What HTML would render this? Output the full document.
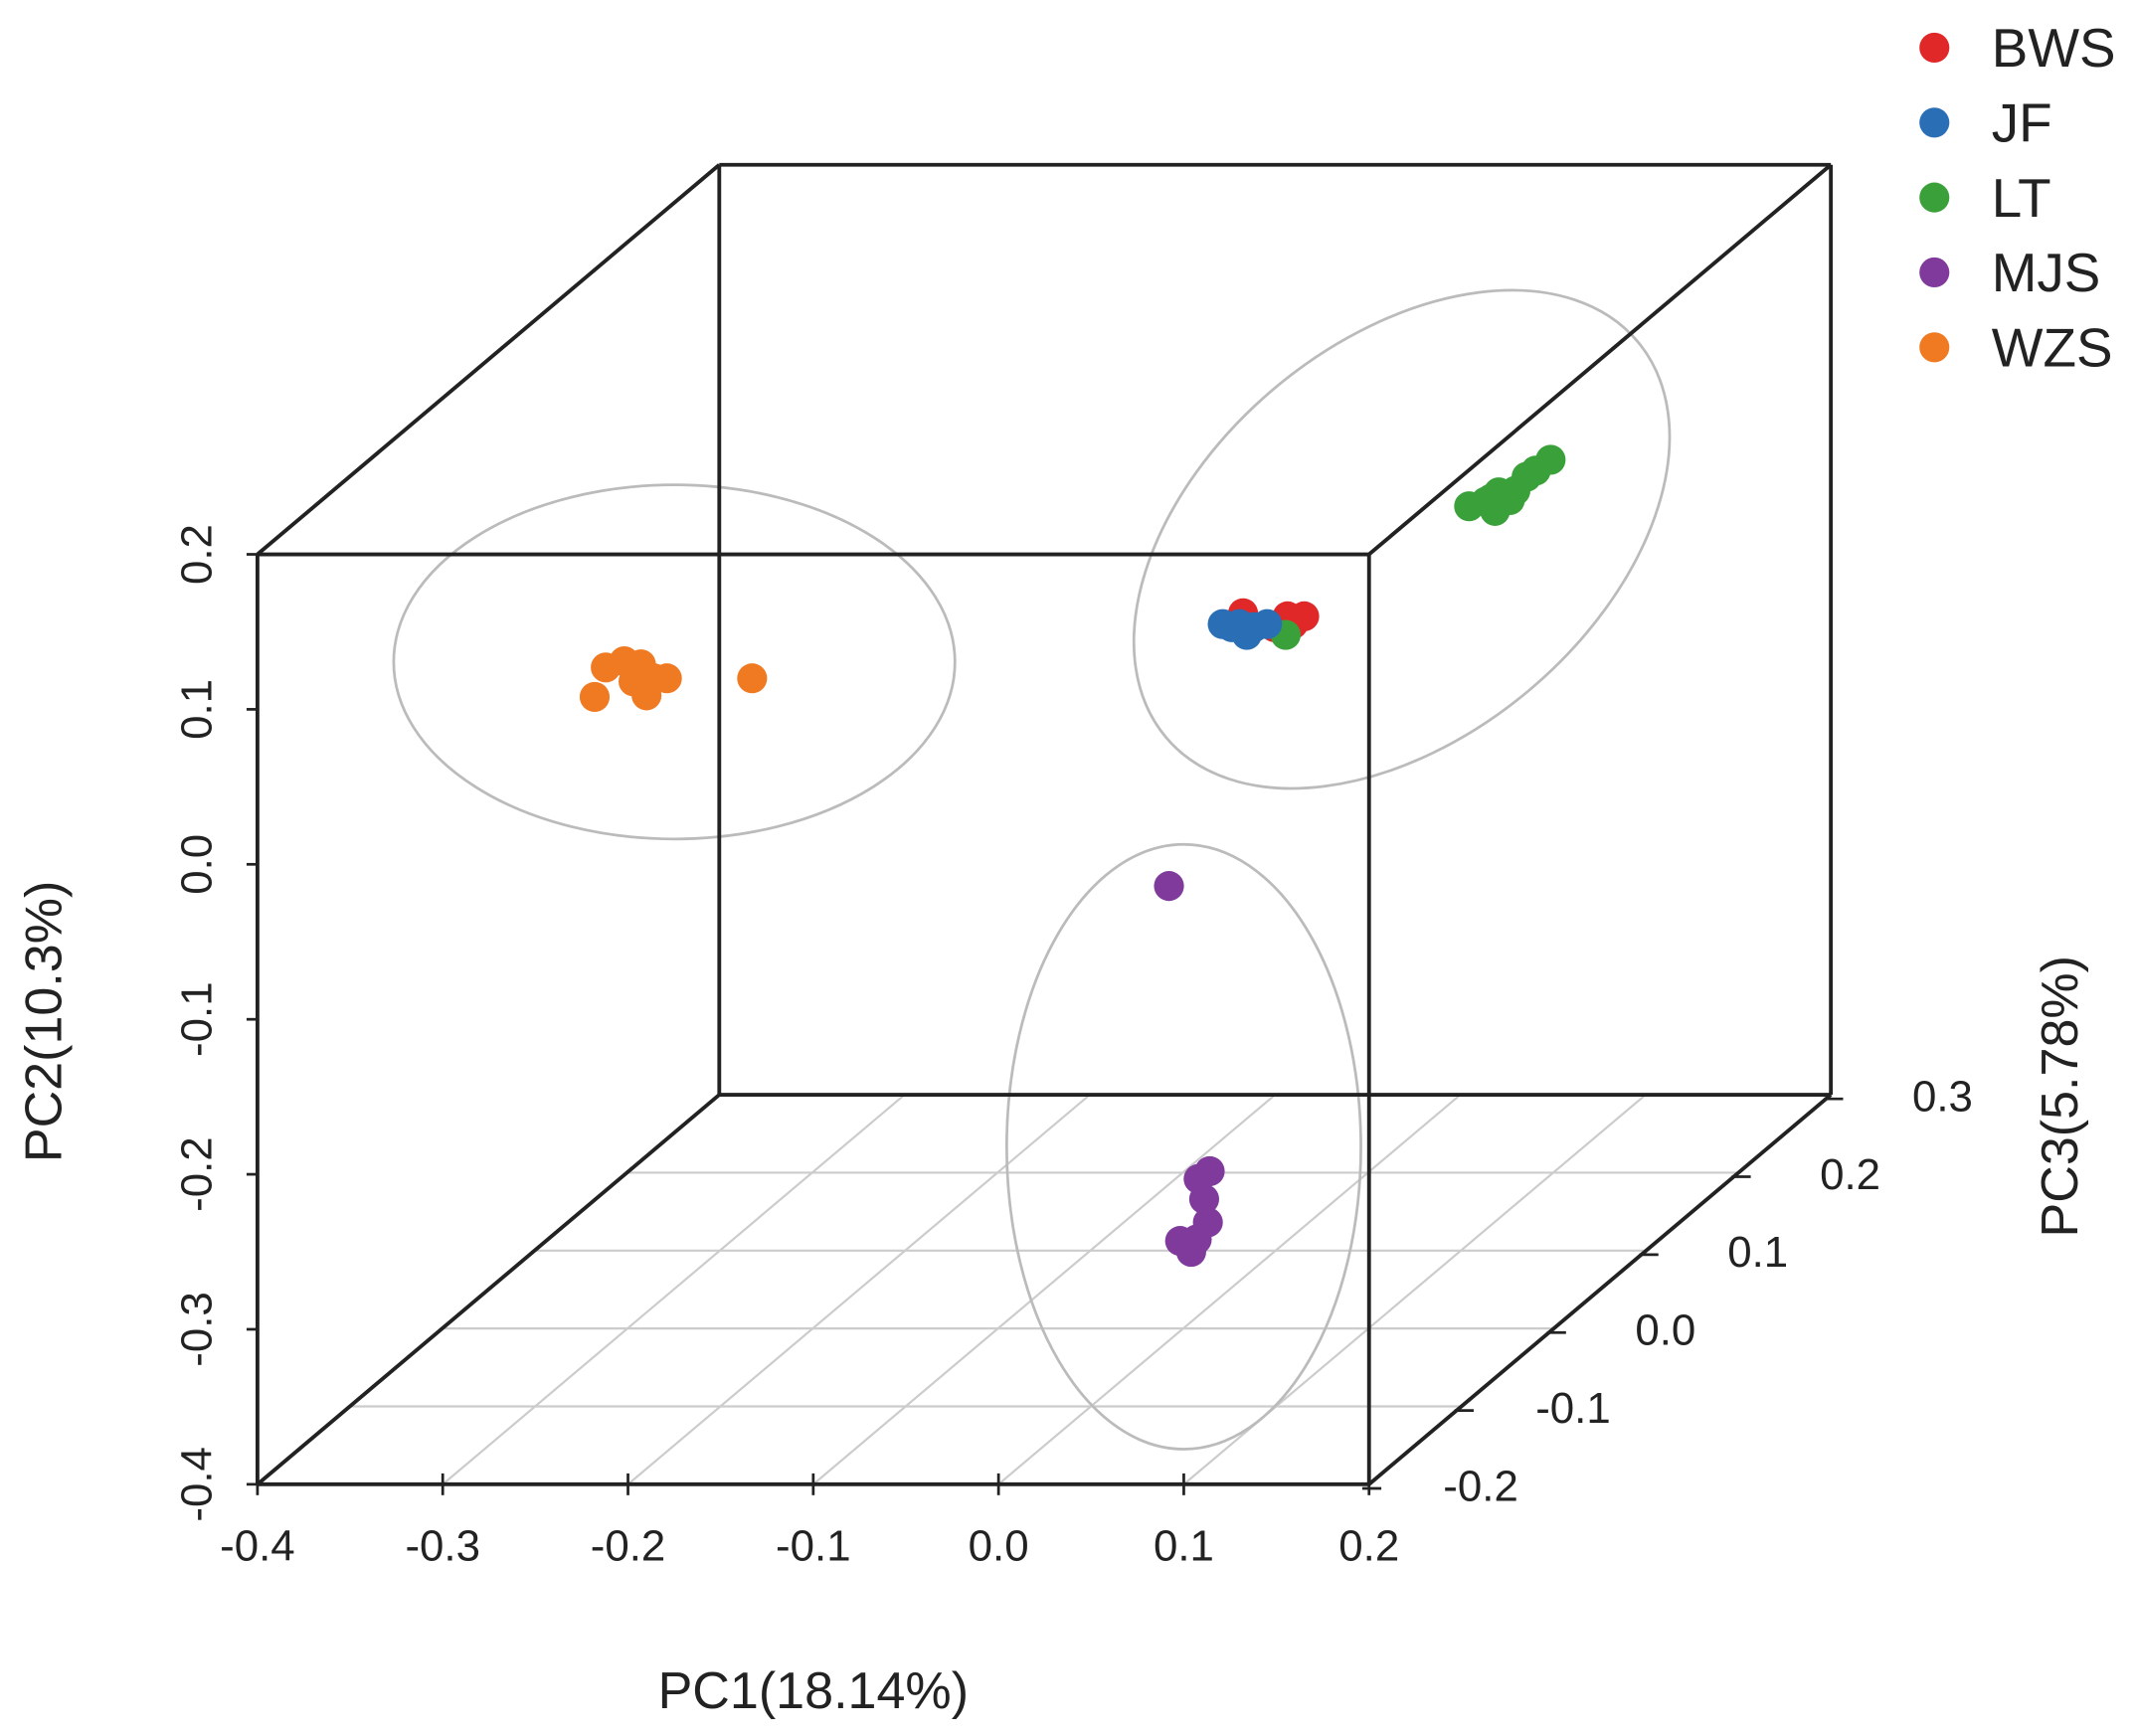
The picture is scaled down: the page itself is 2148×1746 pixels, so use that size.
<!DOCTYPE html>
<html><head><meta charset="utf-8"><style>html,body{margin:0;padding:0;background:#fff}svg{display:block}</style></head>
<body>
<svg id="chart" width="2148" height="1746" viewBox="0 0 1568 1274.6" preserveAspectRatio="none" xmlns="http://www.w3.org/2000/svg" font-family="Liberation Sans, sans-serif">
<g id="grid"></g>
<g id="ellipses">
<ellipse cx="495" cy="486" rx="206" ry="130" fill="none" stroke="#bbb" stroke-width="2"/>
<ellipse cx="1029" cy="396" rx="226" ry="145" transform="rotate(-40 1029 396)" fill="none" stroke="#bbb" stroke-width="2"/>
<ellipse cx="869" cy="842" rx="130" ry="222" fill="none" stroke="#bbb" stroke-width="2"/>
</g>
<g id="box"></g>
<g id="points"></g>
<g id="labels"></g>
<text x="597" y="1254" font-size="38" text-anchor="middle" fill="#222">PC1(18.14%)</text>
<text transform="translate(45 750) rotate(-90)" font-size="38" text-anchor="middle" fill="#222">PC2(10.3%)</text>
<text transform="translate(1525 805) rotate(-90)" font-size="38" text-anchor="middle" fill="#222">PC3(5.78%)</text>
<g id="legend"></g>
</svg>
<script>
const groups = ["BWS","JF","LT","MJS","WZS"];
const colors = ["#e02828","#2a6fb5","#3aa13a","#7f3a9b","#f07a22"];
const xTicks = [-0.4,-0.3,-0.2,-0.1,0.0,0.1,0.2];
const yTicks = [0.2,0.1,0.0,-0.1,-0.2,-0.3,-0.4];
const zTicks = [-0.2,-0.1,0.0,0.1,0.2,0.3];
const bwsX = [0.132,0.156,0.165,0.159,0.149];
const bwsY = [0.162,0.160,0.160,0.155,0.153];
const jfX = [0.121,0.130,0.138,0.145,0.134,0.126];
const jfY = [0.155,0.155,0.153,0.155,0.148,0.153];
const ltX = [0.155,0.254,0.263,0.268,0.270,0.279,0.285,0.290,0.298,0.266,0.276];
const ltY = [0.148,0.231,0.234,0.228,0.240,0.241,0.250,0.254,0.261,0.236,0.235];
const mjsX = [0.092,0.114,0.108,0.111,0.113,0.107,0.098,0.104];
const mjsY = [-0.014,-0.198,-0.203,-0.216,-0.231,-0.242,-0.243,-0.250];
const wzsX = [-0.218,-0.212,-0.202,-0.193,-0.186,-0.179,-0.190,-0.197,-0.133];
const wzsY = [0.108,0.127,0.131,0.129,0.120,0.120,0.109,0.118,0.120];

const NS="http://www.w3.org/2000/svg";
function px(x,z){return 189+(x+0.4)*1360+(z+0.2)*678;}
function py(y,z){return 407+(0.2-y)*1138-(z+0.2)*572;}
function mk(tag,attrs,parent){const e=document.createElementNS(NS,tag);for(const k in attrs)e.setAttribute(k,attrs[k]);parent.appendChild(e);return e;}
function line(p,x1,y1,x2,y2,c,w){return mk('line',{x1:x1,y1:y1,x2:x2,y2:y2,stroke:c,'stroke-width':w},p);}

const grid=document.getElementById('grid');
zTicks.slice(1,-1).forEach(z=>{const l=line(grid,px(-0.4,z),py(-0.4,z),px(0.2,z),py(-0.4,z),'#ccc',1.6);

});
xTicks.slice(1,-1).forEach(x=>{const l=line(grid,px(x,-0.2),py(-0.4,-0.2),px(x,0.3),py(-0.4,0.3),'#ccc',1.6);

});

const box=document.getElementById('box');
const edges=[
[-0.4,0.2,-0.2,0.2,0.2,-0.2],[0.2,0.2,-0.2,0.2,-0.4,-0.2],[0.2,-0.4,-0.2,-0.4,-0.4,-0.2],[-0.4,-0.4,-0.2,-0.4,0.2,-0.2],
[-0.4,0.2,0.3,0.2,0.2,0.3],[0.2,0.2,0.3,0.2,-0.4,0.3],[0.2,-0.4,0.3,-0.4,-0.4,0.3],[-0.4,-0.4,0.3,-0.4,0.2,0.3],
[-0.4,0.2,-0.2,-0.4,0.2,0.3],[0.2,0.2,-0.2,0.2,0.2,0.3],[0.2,-0.4,-0.2,0.2,-0.4,0.3],[-0.4,-0.4,-0.2,-0.4,-0.4,0.3]];
edges.forEach(e=>{const l=line(box,px(e[0],e[2]),py(e[1],e[2]),px(e[3],e[5]),py(e[4],e[5]),'#222',2.8);

});

const pts=document.getElementById('points');
const series=[[bwsX,bwsY],[jfX,jfY],[ltX,ltY],[mjsX,mjsY],[wzsX,wzsY]];
const order=[0,2,1,3,4];
order.forEach(gi=>{const s=series[gi];s[0].forEach((x,i)=>{const c=mk('circle',{cx:px(x,-0.2),cy:py(s[1][i],-0.2),r:11,fill:colors[gi]},pts);

});});

const lab=document.getElementById('labels');
function fmt(v){return v.toFixed(1).replace('-0.0','0.0');}
xTicks.forEach(x=>{const X=px(x,-0.2),Y=py(-0.4,-0.2);line(lab,X,Y-8,X,Y+8,'#222',2);
const t=mk('text',{x:X,y:Y+56,'font-size':32,'text-anchor':'middle',fill:'#222'},lab);t.textContent=fmt(x);

});
yTicks.forEach(y=>{const X=px(-0.4,-0.2),Y=py(y,-0.2);line(lab,X-8,Y,X,Y,'#222',2);
const t=mk('text',{transform:'translate(155 '+Y+') rotate(-90)','font-size':32,'text-anchor':'middle',fill:'#222'},lab);t.textContent=fmt(y);

});
zTicks.forEach(z=>{const X=px(0.2,z),Y=py(-0.4,z);line(lab,X-5,Y+3,X+9,Y+3,'#222',2);
const t=mk('text',{x:X+82,y:Y+12,'font-size':32,'text-anchor':'middle',fill:'#222'},lab);t.textContent=fmt(z);

});

const leg=document.getElementById('legend');
groups.forEach((g,i)=>{const Y=35+i*55;mk('circle',{cx:1420,cy:Y,r:11,fill:colors[i]},leg);
const t=mk('text',{x:1462,y:Y+14,'font-size':40,fill:'#222'},leg);t.textContent=g;

});
</script>
</body></html>
